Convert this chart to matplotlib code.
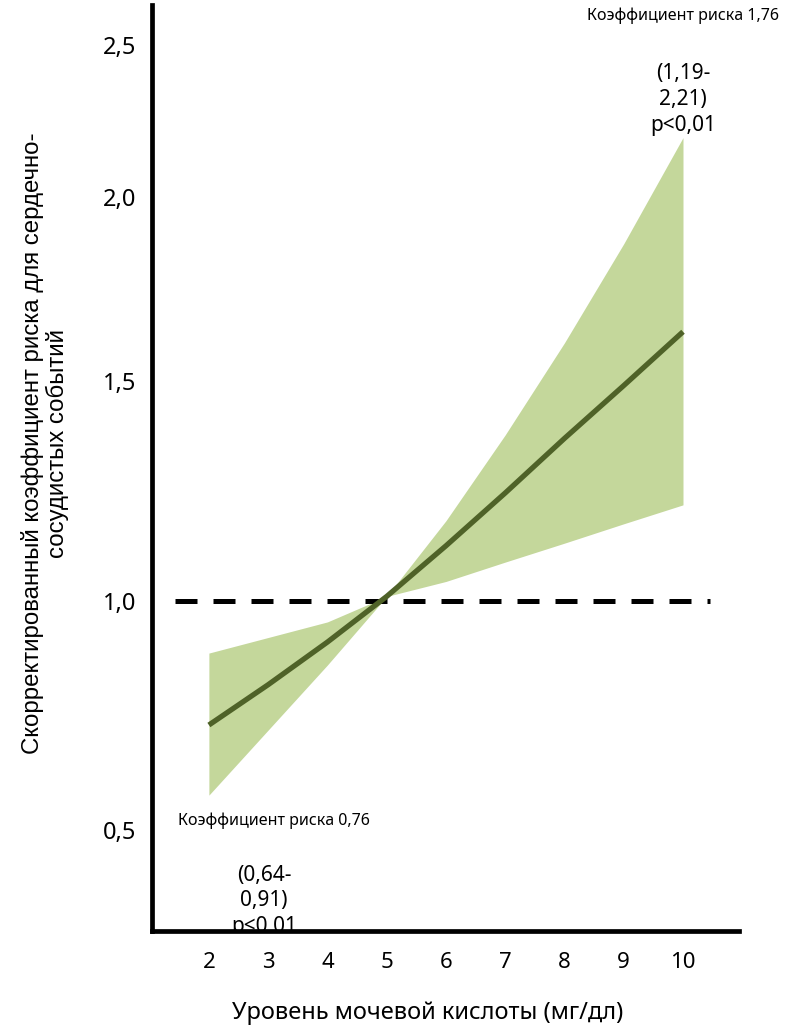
import numpy as np
import matplotlib.pyplot as plt

# DATOS

urico = [2, 3, 4, 5, 6, 7, 8, 9, 10]
hr = [0.729, 0.817, 0.91, 1.01, 1.125, 1.245, 1.369, 1.489, 1.633]
hr_sup = [0.886, 0.920, 0.954, 1.01, 1.182, 1.377, 1.603, 1.872, 2.194]
hr_inf = [0.576, 0.718, 0.860, 1.01, 1.044, 1.088, 1.131, 1.175, 1.218]

ref_x = [1.43, 10.46]
ref_y = [1.0, 1.0]

yticks = [0.5, 1.0, 1.5, 2.0, 2.5]
ytick_labels = ["0,5", "1,0", "1,5", "2,0", "2,5"]
xticks = [2, 3, 4, 5, 6, 7, 8, 9, 10]

texto_sup = "Коэффициент риска 1,76"
ic_sup = "(1,19-\n2,21)\np<0,01"
texto_inf = "Коэффициент риска 0,76"
ic_inf = "(0,64-\n0,91)\np<0,01"

xlabel = "Уровень мочевой кислоты (мг/дл)"
ylabel = "Скорректированный коэффициент риска для сердечно-\nсосудистых событий"

# ESCALA Y (espaciado irregular del original)

escala_val = [0.0, 0.5, 1.0, 1.5, 2.0, 2.5, 3.0]
escala_pos = [-1059, -830, -601, -381, -197, -45, 107]


def fwd(v):
    return np.interp(v, escala_val, escala_pos)


def inv(p):
    return np.interp(p, escala_pos, escala_val)


FUENTE = ['Noto Sans', 'DejaVu Sans']
VERDE = "#4F6228"
VERDE_CLARO = "#C4D79B"

fig = plt.figure(figsize=(7.93, 10.28), dpi=100)
ax = fig.add_axes([152/793, 1 - 931/1028, (739 - 152)/793, (931 - 5)/1028])

ax.set_yscale('function', functions=(fwd, inv))
ax.set_xlim(1.04, 10.945)
ax.set_ylim(0.2795, 2.63)

# BANDA DE CONFIANZA

ax.fill_between(urico, hr_inf, hr_sup, color=VERDE_CLARO, lw=0, zorder=1)

# LINEA DE REFERENCIA

ax.plot(ref_x, ref_y, color='black', lw=3.6,
        linestyle=(0, (4.4, 3.2)), zorder=2)

# LINEA PRINCIPAL

ax.plot(urico, hr, color=VERDE, lw=3.8, solid_capstyle='butt', zorder=3)

# EJES

for lado in ['top', 'right']:
    ax.spines[lado].set_visible(False)
for lado in ['left', 'bottom']:
    ax.spines[lado].set_linewidth(3.4)
    ax.spines[lado].set_color('black')

ax.set_yticks(yticks)
ax.set_yticklabels(ytick_labels)
ax.yaxis.set_minor_locator(plt.NullLocator())
ax.set_xticks(xticks)
ax.tick_params(axis='both', length=0)
ax.tick_params(axis='y', pad=11, labelsize=17)
ax.tick_params(axis='x', pad=15, labelsize=16)
for t in ax.get_xticklabels() + ax.get_yticklabels():
    t.set_family(FUENTE)

# ANOTACIONES

ax.text(10, 2.595, texto_sup, ha='center', va='center',
        fontsize=11.5, family=FUENTE)
ax.text(10, 2.32, ic_sup, ha='center', va='center',
        fontsize=15, family=FUENTE, linespacing=1.3)
ax.text(3.09, 0.52, texto_inf, ha='center', va='center',
        fontsize=11.5, family=FUENTE)
ax.text(2.93, 0.345, ic_inf, ha='center', va='center',
        fontsize=15, family=FUENTE, linespacing=1.3,
        zorder=2, clip_on=True)

# ETIQUETAS

fig.text(428/793, 1 - 1013/1028, xlabel, ha='center', va='center',
         fontsize=17, family=FUENTE)
fig.text(45/793, 1 - 443/1028, ylabel, ha='center', va='center',
         rotation=90, fontsize=17.3, family=['Liberation Sans', 'DejaVu Sans'],
         multialignment='center', linespacing=1.1)

fig.savefig("out.png", dpi=100)
